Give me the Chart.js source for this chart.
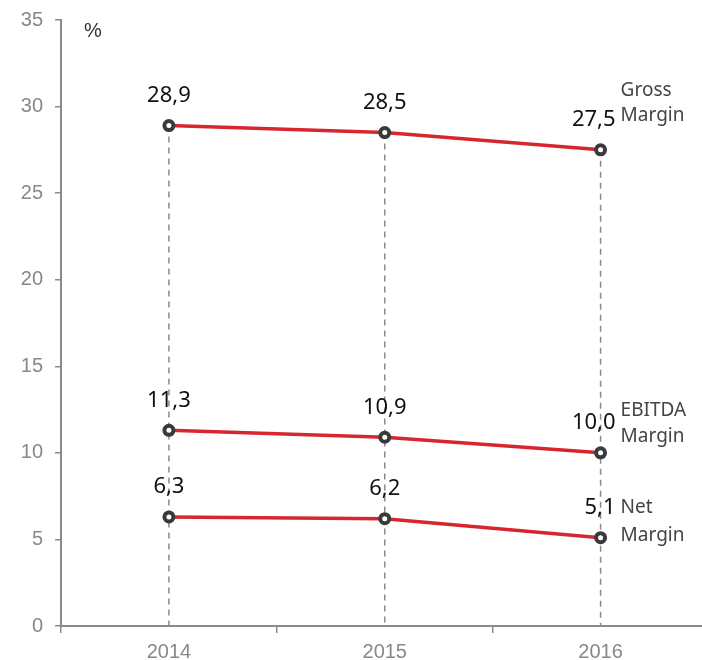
<!DOCTYPE html>
<html>
<head>
<meta charset="utf-8">
<script src="https://cdn.jsdelivr.net/npm/chart.js@4.4.1/dist/chart.umd.min.js"></script>
<style>
  html, body { margin: 0; padding: 0; background: #fff; overflow: hidden; width: 702px; height: 660px; }
  #wrap { width: 717px; height: 660px; position: relative; }
</style>
</head>
<body>
<div id="wrap"><canvas id="margins" width="717" height="660"></canvas></div>
<script>
var years = ['2014', '2015', '2016'];
var grossMargin = [28.9, 28.5, 27.5];
var ebitdaMargin = [11.3, 10.9, 10.0];
var netMargin = [6.3, 6.2, 5.1];
var seriesNames = [['Gross', 'Margin'], ['EBITDA', 'Margin'], ['Net', 'Margin']];
var yTicks = [0, 5, 10, 15, 20, 25, 30, 35];

// vertical offsets of the two-line series names, relative to the last point
var nameOffsets = [[-59, -34], [-42, -16], [-30, -2]];

function fmt(v) {
    return v.toFixed(1).replace('.', ',');
}

var dropLines = {
    id: 'dropLines',
    beforeDatasetsDraw: function(chart) {
        var ctx = chart.ctx;
        var x = chart.scales.x, y = chart.scales.y;
        ctx.save();
        ctx.strokeStyle = '#8a8a8a';
        ctx.lineWidth = 1.5;
        ctx.setLineDash([6, 5]);
        years.forEach(function(_, i) {
            var top = Math.min.apply(null, chart.data.datasets.map(function(d) { return y.getPixelForValue(d.data[i]); }));
            var px = x.getPixelForValue(i);
            ctx.beginPath();
            ctx.moveTo(px, top);
            ctx.lineTo(px, y.getPixelForValue(0));
            ctx.stroke();
        });
        ctx.restore();
    }
};

var labels = {
    id: 'labels',
    afterDatasetsDraw: function(chart) {
        var ctx = chart.ctx;
        var x = chart.scales.x, y = chart.scales.y;
        ctx.save();
        ctx.textBaseline = 'middle';
        chart.data.datasets.forEach(function(d, s) {
            var last = d.data.length - 1;
            ctx.fillStyle = '#111';
            ctx.font = '22px "Noto Sans"';
            d.data.forEach(function(v, i) {
                var px = x.getPixelForValue(i);
                // last value sits right-aligned so it clears the series name
                if (i === last) {
                    ctx.textAlign = 'right';
                    px += 15;
                } else {
                    ctx.textAlign = 'center';
                }
                ctx.fillText(fmt(v), px, y.getPixelForValue(v) - 30);
            });
            var lx = x.getPixelForValue(last) + 20;
            var ly = y.getPixelForValue(d.data[last]);
            ctx.fillStyle = '#444';
            ctx.font = '19px "Noto Sans"';
            ctx.textAlign = 'left';
            seriesNames[s].forEach(function(line, k) {
                ctx.fillText(line, lx, ly + nameOffsets[s][k]);
            });
        });
        // unit marker
        ctx.fillStyle = '#333';
        ctx.font = '20px "Liberation Sans"';
        ctx.textAlign = 'left';
        ctx.fillText('%', x.left + 23, y.getPixelForValue(35) + 11);
        ctx.restore();
    }
};

function line(data) {
    return {
        data: data,
        borderColor: '#d7262f',
        borderWidth: 3.5,
        pointRadius: 4.5,
        pointBorderWidth: 4,
        pointBorderColor: '#3a3a3a',
        pointBackgroundColor: '#fff',
        tension: 0
    };
}

new Chart(document.getElementById('margins'), {
    type: 'line',
    data: {
        labels: years,
        datasets: [line(grossMargin), line(ebitdaMargin), line(netMargin)]
    },
    options: {
        responsive: false,
        animation: false,
        layout: { padding: { top: 20, left: 0, right: 0, bottom: 0 } },
        plugins: { legend: { display: false }, tooltip: { enabled: false } },
        scales: {
            x: {
                offset: true,
                grid: { drawOnChartArea: false, drawTicks: true, tickLength: 7, color: '#8a8a8a', lineWidth: 1.5, offset: true },
                border: { color: '#8a8a8a', width: 2 },
                ticks: { color: '#888', font: { family: 'Liberation Sans', size: 20 }, padding: 7 },
                afterFit: function(s) { s.height = 34; }
            },
            y: {
                min: 0,
                max: 35,
                afterBuildTicks: function(s) { s.ticks = yTicks.map(function(v) { return { value: v }; }); },
                grid: { drawOnChartArea: false, drawTicks: true, tickLength: 6, color: '#8a8a8a', lineWidth: 1.5 },
                border: { color: '#8a8a8a', width: 2 },
                ticks: { color: '#888', font: { family: 'Liberation Sans', size: 20 }, padding: 12 },
                afterFit: function(s) { s.width = 61; s.paddingTop = 0; s.paddingBottom = 0; }
            }
        }
    },
    plugins: [dropLines, labels]
});
</script>
</body>
</html>
